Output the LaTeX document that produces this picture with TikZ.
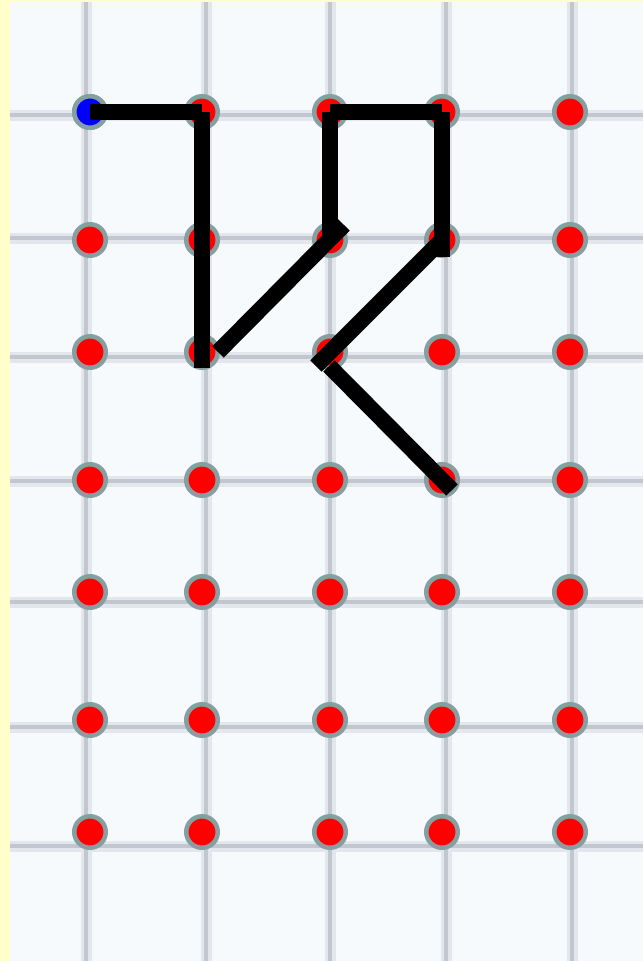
\documentclass[tikz,border=0pt]{standalone}
\definecolor{bgc}{HTML}{F6FAFD}
\definecolor{ylw}{HTML}{FFFFCC}
\definecolor{gridc}{HTML}{C2C7CF}
\definecolor{gridh}{HTML}{E3E7ED}
\definecolor{ringc}{HTML}{86A0A2}
\begin{document}
\begin{tikzpicture}[x=1pt,y=-1pt,
  dotnode/.style={circle,inner sep=0pt,minimum size=31.5pt,draw=ringc,line width=4.5pt,fill=red},
  gridhalo/.style={gridh,line width=11pt},
  gridcore/.style={gridc,line width=4pt},
  pen/.style={black,line width=16pt,line cap=butt}]
\useasboundingbox (0,0) rectangle (643,961);
\fill[ylw] (0,0) rectangle (643,961);
\fill[bgc] (10,2) rectangle (643,961);
% grid
\foreach \gx in {86,206,330,446,572}{\draw[gridhalo] (\gx,2) -- (\gx,961);}
\foreach \gy in {115,238,357,481,602,727,846}{\draw[gridhalo] (10,\gy) -- (643,\gy);}
\foreach \gx in {86,206,330,446,572}{\draw[gridcore] (\gx,2) -- (\gx,961);}
\foreach \gy in {115,238,357,481,602,727,846}{\draw[gridcore] (10,\gy) -- (643,\gy);}
% dots
\foreach \cx/\ci in {90/1,202/2,330/3,442/4,570/5}{
  \foreach \ry/\rj in {112/1,240/2,352/3,480/4,592/5,720/6,832/7}{
    \node[dotnode] (d\ci\rj) at (\cx,\ry) {};
  }
}
\node[dotnode,fill=blue] at (d11) {};
% strokes
\draw[pen] (d11.center) -- (d21.center);
\draw[pen] (d21.center) -- ([yshift=-16pt]d23.center);
\draw[pen] (d31.center) -- (d32.center);
\draw[pen] (d31.center) -- (d41.center);
\draw[pen] (d41.center) -- ([yshift=-17pt]d42.center);
\draw[pen] ([xshift=16pt]d23.center) -- ([xshift=14pt,yshift=15pt]d32.center);
\draw[pen] ([xshift=-14pt,yshift=-14pt]d33.center) -- ([xshift=-2pt,yshift=-2pt]d42.center);
\draw[pen] ([xshift=-1pt,yshift=-14pt]d33.center) -- ([xshift=10pt,yshift=-10pt]d44.center);
\end{tikzpicture}
\end{document}
